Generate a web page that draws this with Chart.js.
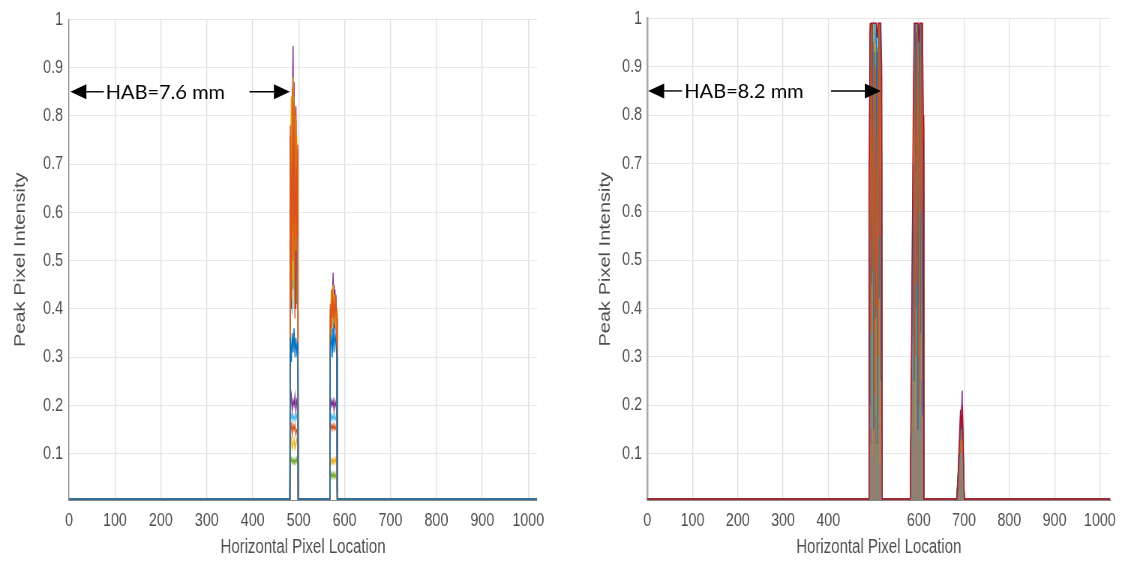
<!DOCTYPE html>
<html><head><meta charset="utf-8">
<script src="https://cdn.jsdelivr.net/npm/chart.js@4.4.1/dist/chart.umd.min.js"></script>
<style>
html,body{margin:0;padding:0;background:#fff;overflow:hidden}
#wrap{position:relative;width:1123px;height:571px;overflow:hidden;background:#fff}
canvas{position:absolute;top:0;transform-origin:0 0}
</style></head><body>
<div id="wrap">
<canvas id="cL" width="748" height="571"></canvas>
<canvas id="cR" width="749" height="571"></canvas>
</div>
<script>
// ---------- data ----------
const base = 0.006;

const xTicks = [0,100,200,300,400,500,600,700,800,900,1000];
const xTickLabelsLeft  = ['0','100','200','300','400','500','600','700','800','900','1000'];
const xTickLabelsRight = ['0','100','200','300','400','','600','700','800','900','1000'];
const yTicks = [0.1,0.2,0.3,0.4,0.5,0.6,0.7,0.8,0.9,1];
const yTickLabels = ['0.1','0.2','0.3','0.4','0.5','0.6','0.7','0.8','0.9','1'];

// Left panel (HAB = 7.6 mm)
const leftX = [0,478,481, 482,484,486,488,490,492,494,496,498, 499,565,568, 569,571,573,575,577,579,581,583, 584,1019];
const leftColors = ['#0072BD','#D95319','#EDB120','#7E2F8E','#77AC30','#4DBEEE','#A2142F','#7E2F8E','#4DBEEE','#D95319','#EDB120','#77AC30'];
const leftPeak1 = [
  [0.34,0.29,0.35,0.31,0.36,0.30,0.34,0.31,0.33],
  [0.78,0.42,0.86,0.50,0.83,0.38,0.80,0.55,0.74],
  [0.70,0.84,0.46,0.88,0.40,0.81,0.52,0.76,0.68],
  [0.62,0.48,0.80,0.945,0.44,0.78,0.40,0.72,0.60],
  [0.72,0.55,0.81,0.44,0.84,0.50,0.79,0.41,0.70],
  [0.58,0.70,0.39,0.77,0.48,0.74,0.42,0.66,0.57],
  [0.76,0.40,0.83,0.58,0.87,0.45,0.82,0.50,0.73],
  [0.20,0.22,0.19,0.21,0.20,0.22,0.19,0.21,0.20],
  [0.17,0.18,0.17,0.18,0.17,0.18,0.17,0.18,0.17],
  [0.15,0.16,0.14,0.16,0.15,0.16,0.14,0.15,0.15],
  [0.12,0.13,0.11,0.12,0.13,0.11,0.12,0.13,0.12],
  [0.08,0.09,0.08,0.09,0.08,0.09,0.08,0.09,0.08]
];
const leftPeak2 = [
  [0.32,0.35,0.30,0.36,0.31,0.35,0.33,0.30],
  [0.41,0.36,0.44,0.38,0.43,0.37,0.42,0.39],
  [0.38,0.44,0.36,0.45,0.37,0.43,0.36,0.40],
  [0.36,0.42,0.40,0.475,0.35,0.44,0.38,0.34],
  [0.39,0.35,0.43,0.45,0.36,0.42,0.37,0.38],
  [0.34,0.39,0.35,0.41,0.36,0.40,0.35,0.33],
  [0.40,0.37,0.44,0.39,0.45,0.36,0.43,0.38],
  [0.19,0.21,0.20,0.21,0.19,0.21,0.20,0.19],
  [0.17,0.18,0.17,0.18,0.17,0.18,0.17,0.17],
  [0.15,0.16,0.15,0.16,0.15,0.16,0.15,0.15],
  [0.09,0.08,0.09,0.08,0.09,0.08,0.09,0.08],
  [0.05,0.06,0.05,0.06,0.05,0.06,0.05,0.05]
];

// Right panel (HAB = 8.2 mm)
const rightX = [0,489,
  490,492,494,496,498,500,502,504,506,508,510,512,514,516,518,
  519,581,
  582,584,586,588,590,592,594,596,598,600,602,604,606,608,610,
  611,683,
  684,686,688,690,692,694,696,698,700,
  701,1023];
const rightColors = ['#A2142F','#D95319','#0072BD','#EDB120','#4DBEEE','#7E2F8E','#77AC30','#D95319','#0072BD','#4DBEEE'];
const rightPeakA = [
  [0.60,0.97,0.99,0.99,0.99,0.99,0.99,0.99,0.99,0.96,0.99,0.99,0.99,0.99,0.90],
  [0.62,0.99,0.35,0.99,0.48,0.95,0.22,0.90,0.40,0.93,0.30,0.99,0.55,0.99,0.70],
  [0.55,0.20,0.99,0.45,0.99,0.15,0.93,0.38,0.99,0.12,0.99,0.42,0.99,0.25,0.80],
  [0.40,0.90,0.55,0.99,0.10,0.99,0.60,0.95,0.18,0.94,0.50,0.99,0.08,0.99,0.60],
  [0.20,0.45,0.15,0.80,0.30,0.90,0.18,0.99,0.25,0.85,0.16,0.60,0.95,0.22,0.35],
  [0.45,0.85,0.12,0.92,0.60,0.99,0.28,0.97,0.66,0.20,0.95,0.70,0.35,0.99,0.50],
  [0.30,0.70,0.96,0.40,0.99,0.25,0.99,0.55,0.99,0.33,0.90,0.99,0.20,0.97,0.65],
  [0.50,0.30,0.99,0.20,0.96,0.65,0.99,0.12,0.94,0.58,0.99,0.15,0.99,0.45,0.88],
  [0.48,0.88,0.62,0.82,0.35,0.86,0.55,0.79,0.30,0.90,0.60,0.83,0.45,0.88,0.75],
  [0.15,0.30,0.22,0.40,0.18,0.35,0.25,0.42,0.20,0.38,0.24,0.33,0.19,0.30,0.20]
];
const rightPeakB = [
  [0.12,0.34,0.60,0.86,0.99,0.99,0.99,0.99,0.99,0.95,0.99,0.99,0.99,0.99,0.80],
  [0.10,0.25,0.55,0.80,0.99,0.30,0.97,0.45,0.99,0.90,0.20,0.99,0.60,0.99,0.70],
  [0.08,0.28,0.40,0.70,0.25,0.99,0.40,0.99,0.15,0.88,0.99,0.35,0.99,0.18,0.75],
  [0.12,0.20,0.58,0.45,0.96,0.15,0.99,0.60,0.99,0.30,0.95,0.99,0.25,0.99,0.55],
  [0.14,0.15,0.45,0.20,0.70,0.18,0.85,0.22,0.75,0.12,0.65,0.20,0.55,0.30,0.25],
  [0.09,0.18,0.50,0.30,0.92,0.55,0.99,0.25,0.97,0.15,0.99,0.50,0.96,0.62,0.45],
  [0.11,0.30,0.25,0.75,0.35,0.90,0.55,0.99,0.35,0.95,0.28,0.99,0.42,0.99,0.65],
  [0.05,0.22,0.35,0.84,0.40,0.99,0.20,0.94,0.50,0.92,0.45,0.70,0.99,0.40,0.78],
  [0.10,0.30,0.62,0.55,0.90,0.40,0.88,0.52,0.93,0.35,0.86,0.58,0.91,0.45,0.62],
  [0.12,0.18,0.25,0.32,0.20,0.38,0.22,0.30,0.18,0.28,0.24,0.35,0.20,0.26,0.18]
];
const rightPeakC = [
  [0.01,0.03,0.08,0.14,0.19,0.15,0.20,0.12,0.02],
  [0.01,0.04,0.07,0.12,0.10,0.17,0.14,0.09,0.02],
  [0.02,0.05,0.10,0.09,0.16,0.13,0.18,0.10,0.03],
  [0.02,0.03,0.06,0.10,0.13,0.11,0.16,0.08,0.02],
  [0.01,0.03,0.06,0.09,0.10,0.12,0.11,0.06,0.02],
  [0.01,0.04,0.09,0.13,0.18,0.20,0.23,0.14,0.03],
  [0.02,0.05,0.08,0.11,0.12,0.15,0.13,0.07,0.02],
  [0.02,0.04,0.07,0.10,0.14,0.16,0.19,0.11,0.03],
  [0.01,0.05,0.08,0.12,0.15,0.18,0.17,0.10,0.02],
  [0.01,0.03,0.05,0.08,0.10,0.11,0.10,0.06,0.02]
];

const leftNote  = {text:'HAB=7.6 mm', y:0.85, leftTip:3, leftTail:76, textX:80, rightTail:393, rightTip:481};
const rightNote = {text:'HAB=8.2 mm', y:0.85, leftTip:2, leftTail:77, textX:82, rightTail:406, rightTip:516};

// ---------- rendering ----------
const SQUISH = 0.75;   // horizontal compression of the original figure
const textColor = '#4d4d4d';
const tickFont = {family:"'Liberation Sans', Arial, sans-serif", size:19};
const titleFont = {family:"'Liberation Sans', Arial, sans-serif", size:20};

function buildLeft(i){
  return [base,base,base, ...leftPeak1[i], base,base,base, ...leftPeak2[i], base,base];
}
function buildRight(i){
  return [base,base, ...rightPeakA[i], base,base, ...rightPeakB[i], base,base, ...rightPeakC[i], base,base];
}
function alpha(hex, a){
  const n = parseInt(hex.slice(1), 16);
  return 'rgba(' + (n>>16 & 255) + ',' + (n>>8 & 255) + ',' + (n & 255) + ',' + a + ')';
}

function drawArrow(ctx, x0, x1, y){
  const dir = Math.sign(x1 - x0), hl = 16, hw = 7.5;
  ctx.beginPath(); ctx.moveTo(x0, y); ctx.lineTo(x1 - dir*hl, y); ctx.stroke();
  ctx.beginPath(); ctx.moveTo(x1, y); ctx.lineTo(x1 - dir*hl, y - hw); ctx.lineTo(x1 - dir*hl, y + hw); ctx.closePath(); ctx.fill();
}
const habPlugin = {
  id:'hab',
  afterDatasetsDraw(chart, args, o){
    const {ctx, scales:{x, y}} = chart;
    const k = SQUISH;
    const yy = y.getPixelForValue(o.y);
    const px = v => x.getPixelForValue(v) * k;
    ctx.save();
    ctx.scale(1/k, 1);
    ctx.strokeStyle = '#000'; ctx.fillStyle = '#000'; ctx.lineWidth = 1.4;
    drawArrow(ctx, px(o.leftTail), px(o.leftTip), yy);
    drawArrow(ctx, px(o.rightTail), px(o.rightTip), yy);
    ctx.font = "20px Lato, 'Open Sans', sans-serif";
    ctx.textBaseline = 'middle'; ctx.textAlign = 'left';
    ctx.fillText(o.text, px(o.textX), yy + 1);
    ctx.restore();
  }
};

function makeChart(id, leftPx, xs, colors, builder, count, xMax, xLabels, note, yWidth, yTitlePad, yTickPad, padRight, yBorder, fillAlpha, lw){
  const cv = document.getElementById(id);
  cv.style.left = leftPx + 'px';
  cv.style.width = cv.width + 'px';
  cv.style.height = cv.height + 'px';
  cv.style.transform = 'scaleX(' + SQUISH + ')';
  const datasets = [];
  for (let i = 0; i < count; i++){
    const ys = builder(i);
    const c = colors[i % colors.length];
    datasets.push({
      data: xs.map((xv, j) => ({x: xv, y: ys[j]})),
      borderColor: c,
      backgroundColor: alpha(c, fillAlpha),
      borderWidth: i === 0 ? 1.4 : lw,
      pointRadius: 0,
      tension: 0,
      fill: (fillAlpha > 0 && i > 0) ? 'origin' : false
    });
  }
  return new Chart(cv, {
    type:'line',
    data:{datasets},
    plugins:[habPlugin],
    options:{
      responsive:false, animation:false, events:[],
      layout:{padding:{left:0, right:padRight, top:15, bottom:0}},
      plugins:{legend:{display:false}, tooltip:{enabled:false}, hab: note},
      scales:{
        x:{
          type:'linear', min:0, max:xMax,
          afterBuildTicks: s => { s.ticks = xTicks.map(v => ({value:v})); },
          afterFit: s => { s.height = 71; },
          ticks:{font:tickFont, color:textColor, padding:9, maxRotation:0,
                 callback:(v) => xLabels[xTicks.indexOf(v)] ?? ''},
          grid:{color:'#dedede', lineWidth:1.3, drawTicks:false},
          border:{display:true, color:'#8a8a8a', width:1},
          title:{display:true, text:'Horizontal Pixel Location', font:titleFont, color:textColor, padding:{top:0, bottom:12}}
        },
        y:{
          type:'linear', min:0.004, max:1,
          afterBuildTicks: s => { s.ticks = yTicks.map(v => ({value:v})); },
          afterFit: s => { s.width = yWidth; },
          ticks:{font:tickFont, color:textColor, padding:yTickPad,
                 callback:(v) => yTickLabels[yTicks.indexOf(v)] ?? ''},
          grid:{color:'#e6e6e6', lineWidth:1, drawTicks:false},
          border:{display:true, color:yBorder.color, width:yBorder.width},
          title:{display:true, text:'Peak Pixel Intensity', font:titleFont, color:textColor, padding:{top:yTitlePad, bottom:0}}
        }
      }
    }
  });
}

makeChart('cL', 0, leftX, leftColors, buildLeft, leftPeak1.length, 1019, xTickLabelsLeft, leftNote, 92, 15, 8, 32, {color:'#8a8a8a', width:1.3}, 0, 1.4);
makeChart('cR', 561, rightX, rightColors, buildRight, rightPeakA.length, 1023, xTickLabelsRight, rightNote, 115, 47, 7, 16, {color:'#a8a8a8', width:2.5}, 0.28, 1.0);
</script>
</body></html>
